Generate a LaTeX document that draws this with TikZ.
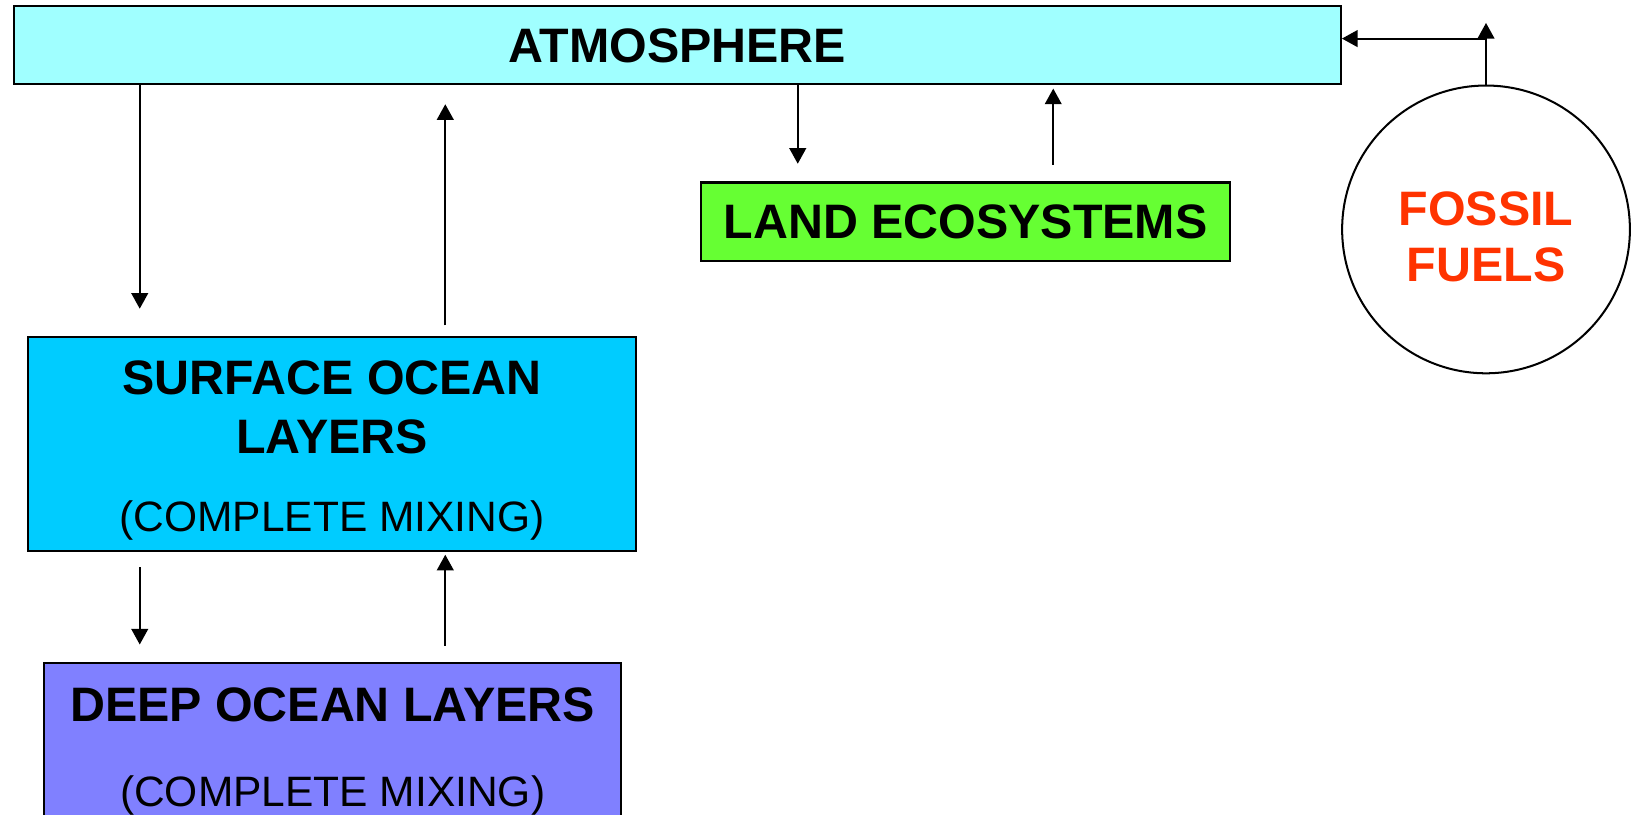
\documentclass[tikz,border=0pt]{standalone}
\usepackage{fontspec}
\setmainfont{Liberation Sans}
\usepackage{xcolor}
\usetikzlibrary{arrows.meta}
\definecolor{atmcyan}{HTML}{A0FFFF}
\definecolor{surfblue}{HTML}{00CCFF}
\definecolor{landgreen}{HTML}{66FF33}
\definecolor{deepblue}{HTML}{8080FF}
\definecolor{fossilred}{HTML}{FF3300}
\begin{document}
\begin{tikzpicture}[x=0.02cm,y=-0.02cm,
  box/.style={draw,line width=1.1pt,inner sep=0pt,align=center},
  bigtxt/.style={font=\bfseries\fontsize{26.4}{31.9}\selectfont},
  flow/.style={line width=1.1pt,-{Triangle[length=0.3cm,width=0.32cm]}}]
\useasboundingbox (0,0) rectangle (1565,781.5);

\node[box,bigtxt,fill=atmcyan,minimum width=25.46cm,minimum height=1.5cm] (atm) at (649.5,43.5) {ATMOSPHERE};
\node[box,bigtxt,fill=landgreen,minimum width=10.16cm,minimum height=1.5cm] (land) at (926,212.5) {LAND ECOSYSTEMS};
\node[box,bigtxt,fill=surfblue,minimum width=11.66cm,minimum height=4.1cm] (surf) at (318.5,425.5)
  {\rule{0pt}{0.91cm}SURFACE OCEAN\\LAYERS\\[0.38cm]{\mdseries\fontsize{23.2}{28}\selectfont (COMPLETE MIXING)}};
\node[box,bigtxt,fill=deepblue,minimum width=11.08cm,minimum height=3.26cm] (deep) at (319,717.5)
  {\rule{0pt}{0.77cm}DEEP OCEAN LAYERS\\[0.5cm]{\mdseries\fontsize{23.2}{28}\selectfont (COMPLETE MIXING)}};
\node[box,bigtxt,circle,text=fossilred,minimum size=5.52cm] (fossil) at (1425,220)
  {\rule{0pt}{0.92cm}FOSSIL\\[-1.3pt]FUELS};

\coordinate (c1) at (134,0);
\coordinate (c2) at (427,0);
\coordinate (c3) at (765,0);
\coordinate (c4) at (1010,0);
\coordinate (ftop) at (1425,22);
\coordinate (fjoin) at (1425,37);

\draw[flow,shorten >=0.52cm] (atm.south -| c1) -- (surf.north -| c1);
\draw[flow,shorten <=0.2cm,shorten >=0.36cm] (surf.north -| c2) -- (atm.south -| c2);
\draw[flow,shorten >=0.34cm] (atm.south -| c3) -- (land.north -| c3);
\draw[flow,shorten <=0.32cm,shorten >=0.06cm] (land.north -| c4) -- (atm.south -| c4);
\draw[flow,shorten <=0.3cm,shorten >=0.34cm] (surf.south -| c1) -- (deep.north -| c1);
\draw[flow,shorten <=0.32cm,shorten >=0.06cm] (deep.north -| c2) -- (surf.south -| c2);

\draw[flow] (fossil.north) -- (ftop);
\draw[flow] (fjoin) -- (fjoin -| atm.east);

\end{tikzpicture}
\end{document}
